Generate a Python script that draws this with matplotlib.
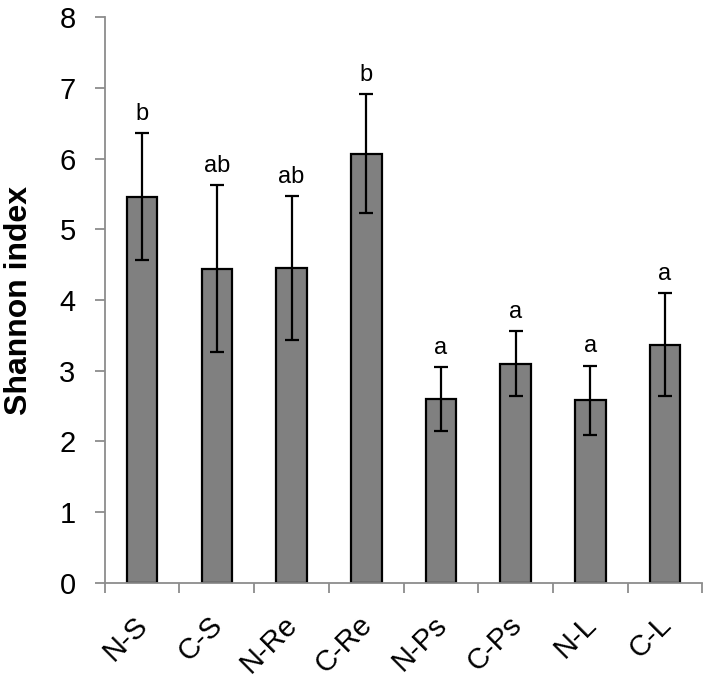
import matplotlib
matplotlib.use("Agg")
import matplotlib.pyplot as plt
import matplotlib.transforms as mtransforms
import numpy as np

categories = ["N-S", "C-S", "N-Re", "C-Re", "N-Ps", "C-Ps", "N-L", "C-L"]
means = [5.46, 4.44, 4.45, 6.07, 2.60, 3.10, 2.58, 3.37]
errors = [0.90, 1.18, 1.02, 0.84, 0.45, 0.46, 0.49, 0.73]
letters = ["b", "ab", "ab", "b", "a", "a", "a", "a"]

plt.rcParams['font.family'] = ['Liberation Sans', 'DejaVu Sans']

fig = plt.figure(figsize=(7.08, 6.85), dpi=100)
ax = fig.add_axes([0.148, 0.149, 0.844, 0.826])

x = np.arange(len(categories))
ax.bar(x, means, width=0.41, color="#808080", edgecolor="black", linewidth=1.6, zorder=2)
ax.errorbar(x, means, yerr=errors, fmt="none", ecolor="black", elinewidth=1.6,
            capsize=5, capthick=1.6, zorder=3)

for xi, m, e, l in zip(x, means, errors, letters):
    ax.annotate(l, (xi, m + e), xytext=(0, 6), textcoords="offset points",
                ha="center", va="bottom", fontsize=17)

ax.set_xlim(-0.5, len(categories) - 0.5)
ax.set_ylim(0, 8)
ax.set_yticks(range(0, 9))
ax.tick_params(axis="y", labelsize=21, length=7, width=1.3, color="#8c8c8c", pad=14)

ax.set_xticks(x)
ax.set_xticklabels(categories, rotation=45, ha="right", va="top",
                   rotation_mode="anchor", fontsize=21)
ax.tick_params(axis="x", which="major", length=0, pad=20)
offset = mtransforms.ScaledTranslation(-6 / 72, 0, fig.dpi_scale_trans)
for lbl in ax.get_xticklabels():
    lbl.set_transform(lbl.get_transform() + offset)
ax.set_xticks(np.arange(-0.5, len(categories)), minor=True)
ax.tick_params(axis="x", which="minor", length=7, width=1.3, color="#8c8c8c")

for s in ["top", "right"]:
    ax.spines[s].set_visible(False)
for s in ["left", "bottom"]:
    ax.spines[s].set_color("#8c8c8c")
    ax.spines[s].set_linewidth(1.3)

ax.set_ylabel("Shannon index", fontsize=23, fontweight="bold", labelpad=18)

fig.savefig("out.png", dpi=100)
